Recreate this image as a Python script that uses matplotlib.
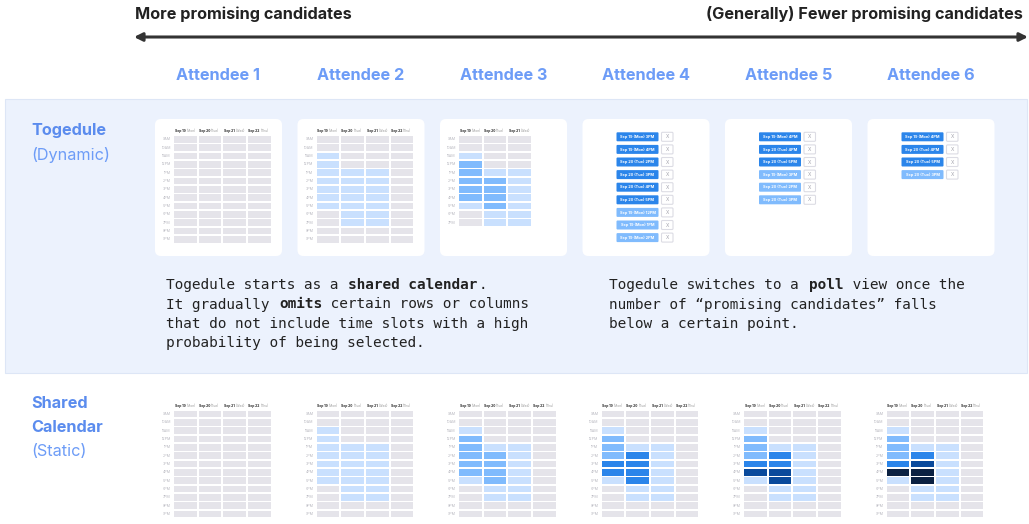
import matplotlib.pyplot as plt
from matplotlib.patches import FancyBboxPatch, Rectangle

# ---- data ----
hours = ["9AM", "10AM", "11AM", "12PM", "1PM", "2PM", "3PM",
         "4PM", "5PM", "6PM", "7PM", "8PM", "9PM"]
days = ["Sep 19", "Sep 20", "Sep 21", "Sep 22"]
weekdays = ["(Mon)", "(Tue)", "(Wed)", "(Thu)"]
attendees = ["Attendee 1", "Attendee 2", "Attendee 3",
             "Attendee 4", "Attendee 5", "Attendee 6"]

# availability level per day (Mon..Thu), one digit per hour 9AM..9PM
shared_levels = [
    ["0000000000000", "0000000000000", "0000000000000", "0000000000000"],
    ["0011111110000", "0000111111100", "0000111111100", "0000000000000"],
    ["0012222210000", "0000122221100", "0000111111100", "0000000000000"],
    ["0012223310000", "0000133331100", "0000111111100", "0000000000000"],
    ["0012223410000", "0000133441100", "0000111111100", "0000000000000"],
    ["0012223510000", "0000134551100", "0000111111100", "0000000000000"],
]

# togedule calendar views (first three attendees): visible days / hours
toge_days = [4, 4, 3]
toge_hours = [13, 13, 11]

# togedule poll views (last three attendees): option, strong?
poll_4 = [("Sep 19 (Mon) 3PM", 1), ("Sep 19 (Mon) 4PM", 1),
          ("Sep 20 (Tue) 2PM", 1), ("Sep 20 (Tue) 3PM", 1),
          ("Sep 20 (Tue) 4PM", 1), ("Sep 20 (Tue) 5PM", 1),
          ("Sep 19 (Mon) 12PM", 0), ("Sep 19 (Mon) 1PM", 0),
          ("Sep 19 (Mon) 2PM", 0)]
poll_5 = [("Sep 19 (Mon) 4PM", 1), ("Sep 20 (Tue) 4PM", 1),
          ("Sep 20 (Tue) 5PM", 1), ("Sep 19 (Mon) 3PM", 0),
          ("Sep 20 (Tue) 2PM", 0), ("Sep 20 (Tue) 3PM", 0)]
poll_6 = [("Sep 19 (Mon) 4PM", 1), ("Sep 20 (Tue) 4PM", 1),
          ("Sep 20 (Tue) 5PM", 1), ("Sep 20 (Tue) 3PM", 0)]
polls = [poll_4, poll_5, poll_6]

left_text = [
    [("Togedule starts as a ", False), ("shared calendar", True), (".", False)],
    [("It gradually ", False), ("omits", True), (" certain rows or columns", False)],
    [("that do not include time slots with a high", False)],
    [("probability of being selected.", False)],
]
right_text = [
    [("Togedule switches to a ", False), ("poll", True), (" view once the", False)],
    [("number of \u201cpromising candidates\u201d falls", False)],
    [("below a certain point.", False)],
]

level_colors = ["#e5e4ea", "#c9e0fe", "#80bbfd", "#2b85ea", "#0a4a9c", "#0b2142"]
accent = "#5b8cee"
SANS = ["Inter", "DejaVu Sans"]
MONO = "DejaVu Sans Mono"

fig = plt.figure(figsize=(10.29, 5.24), dpi=100)
ax = fig.add_axes([0, 0, 1, 1])
ax.set_xlim(0, 1029)
ax.set_ylim(524, 0)
ax.axis("off")

COL = 24.7
ROW = 8.33


def draw_grid(x0, y0, levels, ndays, nhours):
    for d in range(ndays):
        cx = x0 + d * COL + (COL - 2) / 2
        ax.text(cx + 0.3, y0 - 4.6, days[d], fontsize=2.4, fontweight="bold",
                color="#222", ha="right", va="center", family=SANS)
        ax.text(cx + 0.9, y0 - 4.6, weekdays[d], fontsize=2.4, color="#999",
                ha="left", va="center", family=SANS)
        for h in range(nhours):
            lv = int(levels[d][h])
            ax.add_patch(Rectangle((x0 + d * COL, y0 + h * ROW), COL - 2, ROW - 1.6,
                                   fc=level_colors[lv], ec="none"))
    for h in range(nhours):
        ax.text(x0 - 3, y0 + h * ROW + (ROW - 1.6) / 2, hours[h], fontsize=2.6,
                color="#b8b8c0", ha="right", va="center", family=SANS)


# header
ax.text(135, 14, "More promising candidates", fontsize=11.7, fontweight="bold",
        color="#222", ha="left", va="center", family=SANS)
ax.text(1023, 14, "(Generally) Fewer promising candidates", fontsize=11.7,
        fontweight="bold", color="#222", ha="right", va="center", family=SANS)
ax.annotate("", xy=(1028, 37), xytext=(134, 37),
            arrowprops=dict(arrowstyle="<|-|>", color="#333", lw=2.2,
                            mutation_scale=12, shrinkA=0, shrinkB=0))

card_left = [155 + i * 142.5 for i in range(6)]
for i, name in enumerate(attendees):
    ax.text(card_left[i] + 63.5, 76, name, fontsize=11.7, fontweight="bold",
            color="#6d9cf7", ha="center", va="center", family=SANS)

# togedule band
ax.add_patch(Rectangle((5, 99), 1022, 274, fc="#ecf2fd", ec="#dde6f6", lw=0.8))
ax.text(31, 131, "Togedule", fontsize=11.7, fontweight="bold", color=accent,
        va="center", family=SANS)
ax.text(31, 155, "(Dynamic)", fontsize=11.7, color="#6d9cf7", va="center", family=SANS)

for i in range(6):
    ax.add_patch(FancyBboxPatch((card_left[i], 119), 127, 137,
                                boxstyle="round,pad=0,rounding_size=6",
                                fc="white", ec="none"))
for i in range(3):
    draw_grid(card_left[i] + 19, 136, shared_levels[i], toge_days[i], toge_hours[i])

for j, poll in enumerate(polls):
    bx = card_left[3 + j] + 34
    for k, (label, strong) in enumerate(poll):
        y = 132.3 + k * 12.6
        ax.add_patch(FancyBboxPatch((bx, y), 42, 9, boxstyle="round,pad=0,rounding_size=1",
                                    fc="#2b85ea" if strong else "#80bbfd", ec="none"))
        ax.text(bx + 21, y + 4.6, label, fontsize=2.8, fontweight="bold", color="white",
                ha="center", va="center", family=SANS)
        ax.add_patch(FancyBboxPatch((bx + 45, y), 11.5, 9, boxstyle="round,pad=0,rounding_size=1",
                                    fc="white", ec="#dcdce4", lw=0.8))
        ax.text(bx + 50.75, y + 4.6, "X", fontsize=3.5, color="#a0a0aa",
                ha="center", va="center", family=SANS)

# explanatory text (monospace)
CW = 8.69


def draw_para(x, y0, lines):
    for n, segs in enumerate(lines):
        xx = x
        for txt, bold in segs:
            ax.text(xx, y0 + n * 19.5, txt, fontsize=10.4, family=MONO,
                    fontweight="bold" if bold else "normal", color="#222",
                    ha="left", va="center")
            xx += len(txt) * CW


draw_para(166, 285, left_text)
draw_para(609, 285, right_text)

# shared calendar row
ax.text(31, 404, "Shared", fontsize=11.7, fontweight="bold", color=accent,
        va="center", family=SANS)
ax.text(31, 427, "Calendar", fontsize=11.7, fontweight="bold", color=accent,
        va="center", family=SANS)
ax.text(31, 451, "(Static)", fontsize=11.7, color="#6d9cf7", va="center", family=SANS)
for i in range(6):
    draw_grid(card_left[i] + 19, 410.7, shared_levels[i], 4, 13)

fig.savefig("out.png", dpi=100)
